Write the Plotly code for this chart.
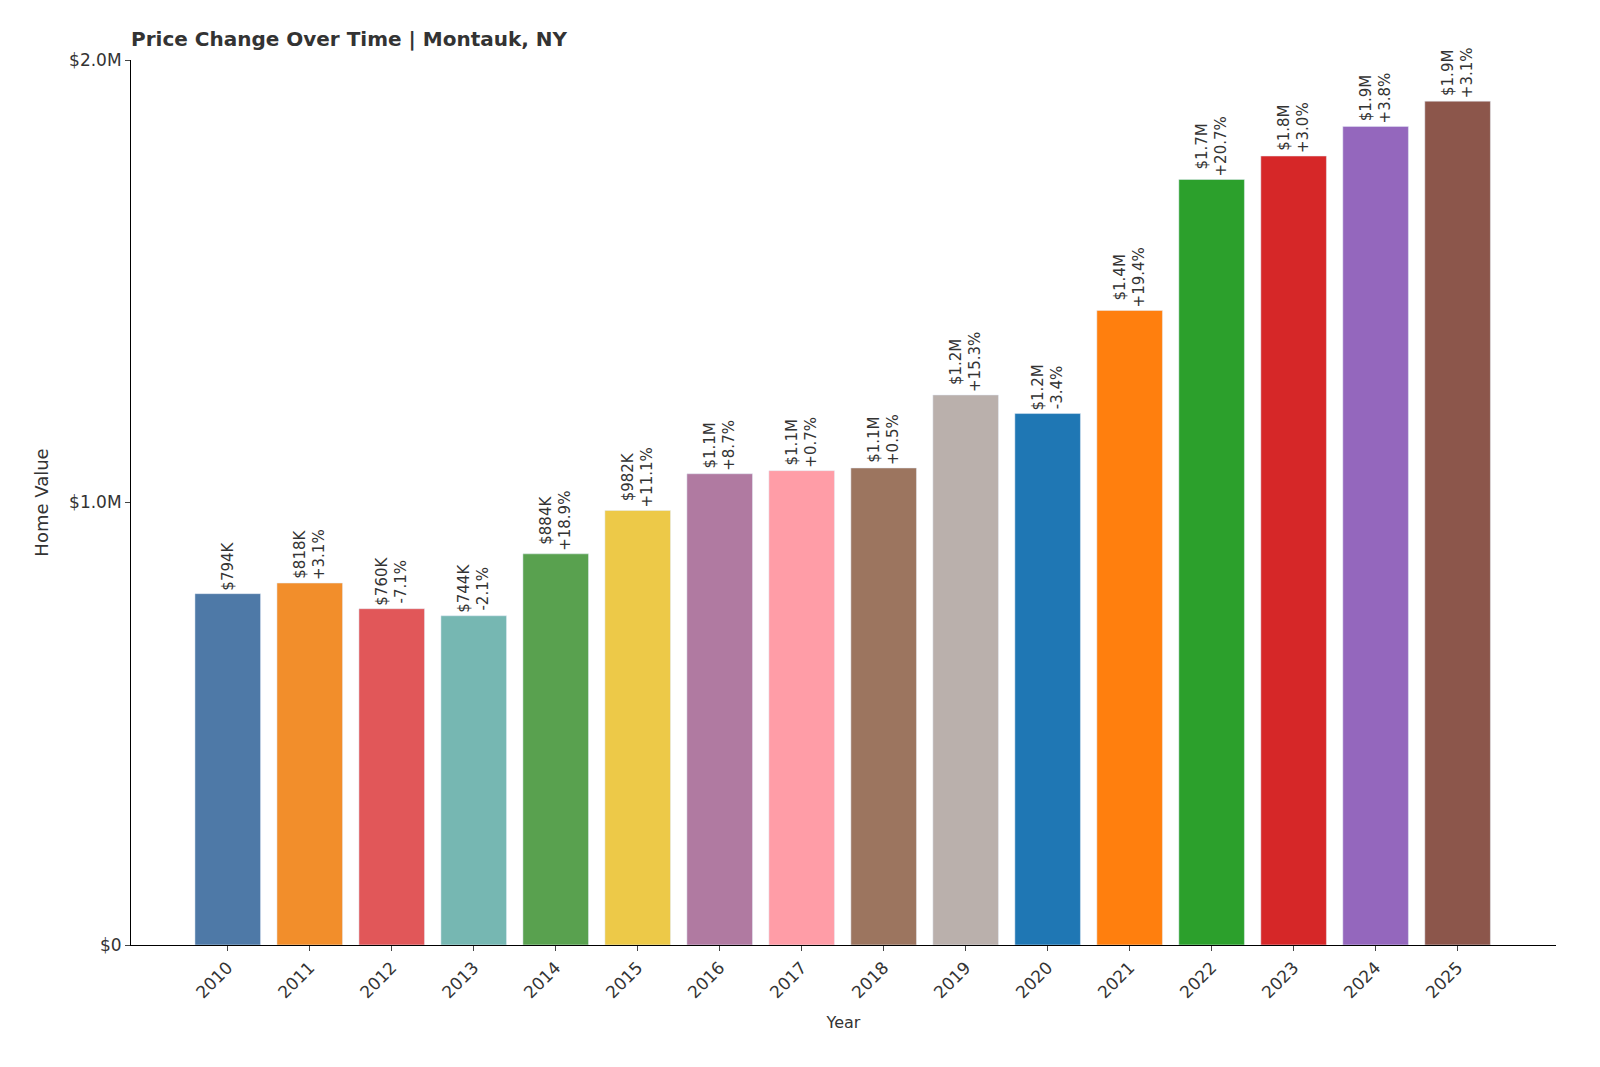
import plotly.graph_objects as go

years = list(range(2010, 2026))
values = [794000, 818000, 760000, 744000, 884000, 982000, 1065000, 1072000, 1078000,
          1243000, 1201000, 1434000, 1730000, 1783000, 1850000, 1907000]
value_labels = ["$794K", "$818K", "$760K", "$744K", "$884K", "$982K", "$1.1M", "$1.1M", "$1.1M",
                "$1.2M", "$1.2M", "$1.4M", "$1.7M", "$1.8M", "$1.9M", "$1.9M"]
pct_labels = ["", "+3.1%", "-7.1%", "-2.1%", "+18.9%", "+11.1%", "+8.7%", "+0.7%", "+0.5%",
              "+15.3%", "-3.4%", "+19.4%", "+20.7%", "+3.0%", "+3.8%", "+3.1%"]
colors = ["#4e79a7", "#f28e2b", "#e15759", "#76b7b2", "#59a14f", "#edc948", "#b07aa1", "#ff9da7",
          "#9c755f", "#bab0ac", "#1f77b4", "#ff7f0e", "#2ca02c", "#d62728", "#9467bd", "#8c564b"]
tick_vals = [0, 1000000, 2000000]
tick_text = ["$0", "$1.0M", "$2.0M"]

texts = [v if not p else f"{v}<br>{p}" for v, p in zip(value_labels, pct_labels)]

fig = go.Figure(go.Bar(
    x=years, y=values, marker_color=colors, width=0.8,
    text=texts, textposition="outside", textangle=-90, cliponaxis=False,
    textfont=dict(size=15, color="#333333", family="DejaVu Sans"),
))
fig.update_layout(
    width=1600, height=1067, plot_bgcolor="white", paper_bgcolor="white",
    margin=dict(l=123, r=52, t=52, b=130),
    font=dict(family="DejaVu Sans", color="#333333", size=16),
    title=dict(text="<b>Price Change Over Time | Montauk, NY</b>", x=123/1600, xanchor="left",
               y=1-31/1067, yanchor="middle", font=dict(size=20, color="#333333")),
    showlegend=False, uniformtext=dict(mode=False),
)
fig.update_xaxes(range=[2008.82, 2026.2], tickvals=years, ticktext=[str(y) for y in years],
                 tickangle=-45, showline=True, linecolor="black", ticks="outside",
                 showgrid=False, title=dict(text="Year", font=dict(size=16)), tickfont=dict(size=17))
fig.update_yaxes(range=[0, 2000000], tickvals=tick_vals, ticktext=tick_text, showline=True,
                 linecolor="black", ticks="outside", showgrid=False, zeroline=False,
                 title=dict(text="Home Value", font=dict(size=18)), tickfont=dict(size=17))
fig.write_html("out.html")
